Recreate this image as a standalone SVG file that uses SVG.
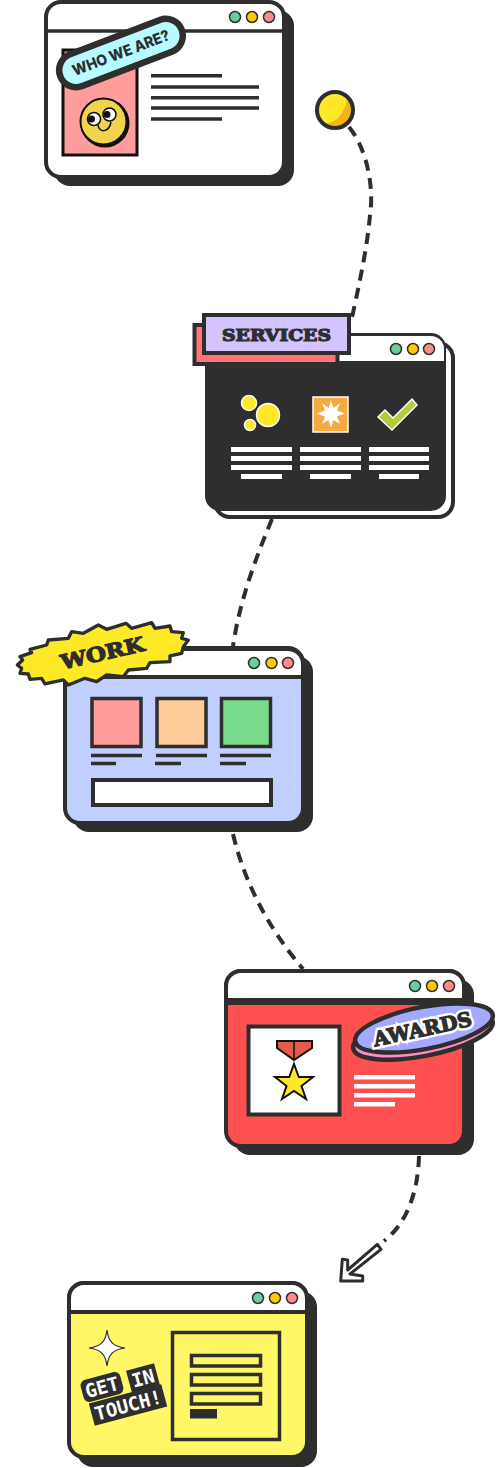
<svg xmlns="http://www.w3.org/2000/svg" width="500" height="1468" viewBox="0 0 500 1468">
<style>
.d{fill:#2e2e2e}
.s{stroke:#2e2e2e;stroke-width:4}
.w{fill:#fff}
.ln{stroke:#2e2e2e;stroke-width:3.500;fill:none}
.dg{fill:#67cf9d;stroke:#2e2e2e;stroke-width:1.500}
.dy{fill:#ffcb00;stroke:#2e2e2e;stroke-width:1.500}
.dr{fill:#ff8a8a;stroke:#2e2e2e;stroke-width:1.500}
.c{fill:none;stroke:#2e2e2e;stroke-width:4;stroke-dasharray:11 7.500}
.hv{font-family:"DejaVu Serif",serif;font-weight:700;fill:#2e2e2e;stroke:#2e2e2e;stroke-width:1.200;text-anchor:middle}
.mono{font-family:"DejaVu Sans Mono","Liberation Mono",monospace;font-weight:700;font-size:19px;fill:#fff;text-anchor:middle}
</style>
<rect width="500" height="1468" fill="#fff"/>
<g id="connectors">
<path class="c" d="M349,127C368,150 374,190 370,215C367,250 358,290 351,322"/>
<path class="c" d="M272,519C255,560 240,600 233,646"/>
<path class="c" d="M233,834C245,885 270,930 303,969"/>
<path class="c" d="M419,1156C418,1195 405,1225 384,1241"/>
<path fill="#fff" stroke="#2e2e2e" stroke-width="3" stroke-linejoin="round" d="M377.300,1244.300L381,1249.300L350,1274L362.700,1276V1281H340.700L342.300,1259.300L347.700,1260V1270Z"/>
</g>
<g id="start-dot">
<circle cx="335" cy="110" r="18" fill="#f5b21b"/>
<path d="M347,97A18,18 0 0 0 321,122C332,127 346,115 347,97Z" fill="#ffe927"/>
<circle cx="335" cy="110" r="18" fill="none" stroke="#2e2e2e" stroke-width="4"/>
</g>
<g id="who-we-are">
<rect class="d" x="54" y="10" width="240" height="176" rx="16"/>
<rect class="w s" x="46" y="2" width="238" height="175" rx="15"/>
<line class="ln" x1="46" y1="31" x2="284" y2="31"/>
<circle class="dg" cx="235" cy="17" r="5.500"/><circle class="dy" cx="252" cy="17" r="5.500"/><circle class="dr" cx="269" cy="17" r="5.500"/>
<rect x="63" y="50" width="74" height="105" fill="#ff9c9c" stroke="#111" stroke-width="3"/>
<circle cx="105" cy="123" r="24.500" fill="#111"/>
<circle cx="103.500" cy="121.500" r="23" fill="#f0d44a" stroke="#111" stroke-width="2"/>
<circle cx="94" cy="119" r="6.500" fill="#fff" stroke="#111" stroke-width="1.500"/><circle cx="91.500" cy="119" r="3.500" fill="#111"/>
<circle cx="109.500" cy="114.500" r="6.500" fill="#fff" stroke="#111" stroke-width="1.500"/><circle cx="107" cy="114.500" r="3.500" fill="#111"/>
<path d="M98,125C99,133 109,133 111,122" fill="none" stroke="#111" stroke-width="1.500"/>
<g class="ln">
<line x1="151" y1="75.700" x2="222" y2="75.700"/><line x1="151" y1="87" x2="259" y2="87"/><line x1="151" y1="97.700" x2="259" y2="97.700"/><line x1="151" y1="108" x2="259" y2="108"/><line x1="151" y1="119" x2="222" y2="119"/>
</g>
<g transform="translate(121,53) rotate(-21)">
<rect x="-65" y="-17" width="130" height="34" rx="17" fill="#b5fbff" stroke="#2e2e2e" stroke-width="6.500"/>
<text x="0" y="5" text-anchor="middle" font-family="Inter,sans-serif" font-weight="800" font-size="15" fill="#2e2e2e" textLength="103" lengthAdjust="spacingAndGlyphs">WHO WE ARE?</text>
</g>
</g>
<g id="services">
<rect class="w s" x="215" y="343" width="238" height="174" rx="15"/>
<rect class="d" x="205" y="333" width="241" height="178" rx="15"/>
<path class="w" d="M338,336H431A13,13 0 0 1 444,349V361H338Z"/>
<circle class="dg" cx="396" cy="349" r="5.500"/><circle class="dy" cx="413" cy="349" r="5.500"/><circle class="dr" cx="429" cy="349" r="5.500"/>
<rect x="194.500" y="325" width="143" height="39" fill="#ff7474" stroke="#2e2e2e" stroke-width="4"/>
<rect x="204" y="315" width="145" height="38" fill="#d3c4ff" stroke="#2e2e2e" stroke-width="4"/>
<text class="hv" x="276.500" y="341" font-size="17" textLength="109" lengthAdjust="spacingAndGlyphs">SERVICES</text>
<g stroke="#fff" stroke-width="1.500">
<circle cx="249" cy="403" r="7.500" fill="#ffe927"/><circle cx="268" cy="415" r="11.500" fill="#ffe927"/><circle cx="250" cy="425" r="5.500" fill="#ffe927"/>
<rect x="313" y="397" width="35" height="35" fill="#f5a93f"/>
</g>
<path d="M331,400L333.500,408L340,403L337,410.500L345,413.500L337,416.500L340,424L333.500,420L331,428L328.500,420L322,424L325,416.500L317,413.500L325,410.500L322,403L328.500,408Z" fill="#fff"/>
<path d="M378,417L385,410L393,418L412,399L417,405L392,430Z" fill="#b4cc3c" stroke="#fff" stroke-width="1.500"/>
<g class="w">
<rect x="231" y="447" width="61" height="5"/><rect x="231" y="456" width="61" height="5"/><rect x="231" y="465" width="61" height="5"/><rect x="241" y="474" width="41" height="5"/>
<rect x="300" y="447" width="61" height="5"/><rect x="300" y="456" width="61" height="5"/><rect x="300" y="465" width="61" height="5"/><rect x="310" y="474" width="41" height="5"/>
<rect x="369" y="447" width="60" height="5"/><rect x="369" y="456" width="60" height="5"/><rect x="369" y="465" width="60" height="5"/><rect x="379" y="474" width="40" height="5"/>
</g>
</g>
<g id="work">
<rect class="d" x="73" y="656" width="240" height="176" rx="16"/>
<rect x="65" y="648" width="238" height="175" rx="15" fill="#c0cfff" class="s"/>
<path class="w s" d="M65,677V663A15,15 0 0 1 80,649H288A15,15 0 0 1 303,663V677Z"/>
<circle class="dg" cx="254" cy="663" r="5.500"/><circle class="dy" cx="271.500" cy="663" r="5.500"/><circle class="dr" cx="288" cy="663" r="5.500"/>
<g stroke="#2e2e2e" stroke-width="3.500">
<rect x="92" y="698.500" width="49" height="48" fill="#ff9c9c"/><rect x="157" y="698.500" width="49" height="48" fill="#ffcb99"/><rect x="221.500" y="698.500" width="49" height="48" fill="#7adb8c"/>
<line x1="91" y1="755.500" x2="142" y2="755.500"/><line x1="156" y1="755.500" x2="207" y2="755.500"/><line x1="220" y1="755.500" x2="271" y2="755.500"/>
<line x1="91" y1="763.500" x2="116" y2="763.500"/><line x1="155" y1="763.500" x2="181" y2="763.500"/><line x1="220" y1="763.500" x2="246" y2="763.500"/>
</g>
<rect x="93" y="780" width="178" height="25" fill="#fff" stroke="#2e2e2e" stroke-width="4"/>
<polygon transform="translate(0,610) scale(.3333)" fill="#ffe927" stroke="#2e2e2e" stroke-width="10" stroke-linejoin="round" points="52,165 68,150 60,140 95,128 90,118 140,105 145,90 205,85 215,65 250,70 295,45 320,58 378,40 395,55 455,38 465,55 510,48 515,65 550,68 545,85 565,90 550,110 545,130 510,138 510,155 450,158 440,175 385,180 370,200 320,195 290,215 255,205 205,225 190,210 135,222 125,205 90,208 85,192 60,190 65,175"/>
<text class="hv" transform="translate(104,660) rotate(-13)" x="0" y="0" font-size="20" textLength="85" lengthAdjust="spacingAndGlyphs">WORK</text>
</g>
<g id="awards">
<rect class="d" x="234" y="979" width="240" height="176" rx="16"/>
<rect x="226" y="971" width="238" height="175" rx="15" fill="#ff5050" class="s"/>
<path class="w s" d="M226,1001V986A15,15 0 0 1 241,971H449A15,15 0 0 1 464,986V1001Z"/>
<rect class="d" x="226" y="998" width="238" height="7"/>
<circle class="dg" cx="415" cy="986" r="5.500"/><circle class="dy" cx="432" cy="986" r="5.500"/><circle class="dr" cx="449" cy="986" r="5.500"/>
<rect x="248.500" y="1026.500" width="91" height="88" fill="#fff" stroke="#2e2e2e" stroke-width="4"/>
<path d="M277,1041H312V1048L294,1060L277,1048Z" fill="#e65a4a" stroke="#111" stroke-width="2"/><line x1="294" y1="1041" x2="294" y2="1060" stroke="#111" stroke-width="1.500"/>
<polygon points="294,1064 298.800,1077 313,1077 301.500,1086 306,1099 294,1091 282,1099 286.500,1086 275,1077 289.200,1077" fill="#ffe927" stroke="#111" stroke-width="2"/>
<g class="w"><rect x="354" y="1075" width="61" height="4.500"/><rect x="354" y="1084" width="61" height="4.500"/><rect x="354" y="1093" width="61" height="4.500"/><rect x="354" y="1102" width="41" height="4.500"/></g>
<ellipse cx="423" cy="1035" rx="71" ry="21" transform="rotate(-11 423 1035)" fill="#ff8ac4" stroke="#2e2e2e" stroke-width="4.500"/>
<ellipse cx="424" cy="1028" rx="70" ry="21" transform="rotate(-11 424 1028)" fill="#a3a9ff" stroke="#2e2e2e" stroke-width="4.500"/>
<text transform="translate(424,1036) rotate(-12)" x="0" y="0" font-size="20" textLength="100" lengthAdjust="spacingAndGlyphs" text-anchor="middle" font-family="DejaVu Serif,serif" font-weight="700" fill="#fff" stroke="#fff" stroke-width="6">AWARDS</text>
<text class="hv" transform="translate(424,1036) rotate(-12)" x="0" y="0" font-size="20" textLength="100" lengthAdjust="spacingAndGlyphs">AWARDS</text>
</g>
<g id="get-in-touch">
<rect class="d" x="77" y="1291" width="240" height="176" rx="16"/>
<rect x="69" y="1283" width="238" height="174" rx="15" fill="#fff766" class="s"/>
<path class="w s" d="M69,1312V1298A15,15 0 0 1 84,1283H292A15,15 0 0 1 307,1298V1312Z"/>
<circle class="dg" cx="258" cy="1298" r="5.500"/><circle class="dy" cx="275" cy="1298" r="5.500"/><circle class="dr" cx="292" cy="1298" r="5.500"/>
<g fill="none" stroke="#2e2e2e" stroke-width="3.500">
<rect x="172.500" y="1332.500" width="107" height="107"/>
<rect x="191.500" y="1355.500" width="69" height="10.500"/><rect x="191.500" y="1374.500" width="69" height="10.500"/><rect x="191.500" y="1393.500" width="69" height="10.500"/>
</g>
<rect class="d" x="190" y="1409" width="27" height="9.500"/>
<path d="M107,1330C108.500,1342 113,1346.500 125,1348C113,1349.500 108.500,1354 107,1366C105.500,1354 101,1349.500 89,1348C101,1346.500 105.500,1342 107,1330Z" fill="#fff" stroke="#2e2e2e" stroke-width="1.200"/>
<g transform="translate(102,1387) rotate(-15)">
<rect x="-20.500" y="-11.500" width="41" height="23" rx="6" class="d"/><text class="mono" x="0" y="7">GET</text>
</g>
<g transform="translate(143,1378) rotate(-15)">
<rect x="-14.500" y="-11.500" width="29" height="23" class="d"/><text class="mono" x="0" y="7">IN</text>
</g>
<g transform="translate(128,1405) rotate(-15)">
<rect x="-37.500" y="-11.500" width="75" height="23" class="d"/><text class="mono" x="0" y="7">TOUCH!</text>
</g>
</g>
</svg>
